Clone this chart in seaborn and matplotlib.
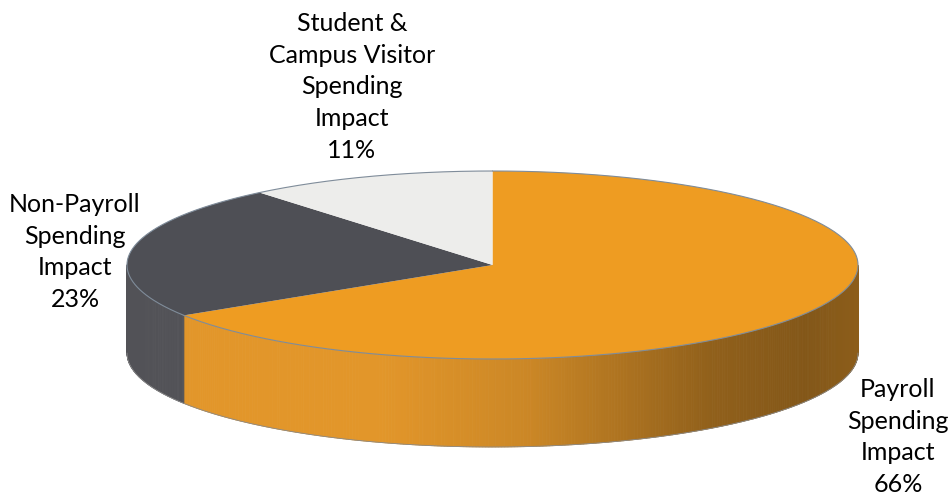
import numpy as np
import matplotlib
matplotlib.use("Agg")
import matplotlib.pyplot as plt
from matplotlib.patches import Polygon
import seaborn as sns

# ---- data ----
categories = ["Payroll\nSpending\nImpact",
              "Non-Payroll\nSpending\nImpact",
              "Student &\nCampus Visitor\nSpending\nImpact"]
shares = [66, 23, 11]
top_colors = ["#EE9C22", "#4E4F55", "#EDEDEB"]
side_colors = ["#E2962A", "#525257", "#D8D8D6"]

sns.set_theme(style="white")
plt.rcParams['font.family'] = ['Lato', 'DejaVu Sans']

W, H = 952, 494
fig = plt.figure(figsize=(W / 100, H / 100), dpi=100)
ax = fig.add_axes([0, 0, 1, 1])
ax.set_xlim(0, W)
ax.set_ylim(H, 0)
ax.axis("off")

# pie geometry (pixel layout)
cx, cy = 492.5, 265.0
a, b = 365.5, 94.0
depth = 88.0


def pt(theta_deg, dy=0.0):
    t = np.radians(theta_deg)
    return cx + a * np.cos(t), cy - b * np.sin(t) + dy


# slice angle ranges: start at 12 o'clock, clockwise
total = float(sum(shares))
starts, ends = [], []
ang = 90.0
for s in shares:
    sweep = 360.0 * s / total
    starts.append(ang)
    ends.append(ang - sweep)
    ang -= sweep


def norm(th):
    return th % 360.0


def side_shade(base_rgb, x):
    # darken towards the right, as in the lit cylinder
    t = (x - (cx - a)) / (2 * a)
    stops_t = [0.0, 0.35, 0.55, 0.8, 0.93, 1.0]
    stops_f = [1.0, 1.0, 0.90, 0.64, 0.58, 0.62]
    f = np.interp(t, stops_t, stops_f)
    return tuple(np.clip(np.array(base_rgb) * f, 0, 1))


# ---- side walls (visible front half: 180..360 deg) ----
for i, s in enumerate(shares):
    base = matplotlib.colors.to_rgb(side_colors[i])
    th_hi, th_lo = starts[i], ends[i]
    n = max(int(abs(th_hi - th_lo) * 2), 2)
    ths = np.linspace(th_lo, th_hi, n + 1)
    for k in range(n):
        t0, t1 = ths[k], ths[k + 1]
        m = norm((t0 + t1) / 2)
        if not (180.0 <= m <= 360.0):
            continue
        p0 = pt(t0); p1 = pt(t1)
        q1 = pt(t1, depth); q0 = pt(t0, depth)
        col = side_shade(base, (p0[0] + p1[0]) / 2) if i == 0 else base
        ax.add_patch(Polygon([p0, p1, q1, q0], closed=True, facecolor=col,
                             edgecolor=col, linewidth=0.6, zorder=1))

# outline of the bottom rim
rim = np.linspace(180, 360, 200)
bx = cx + a * np.cos(np.radians(rim))
by = cy - b * np.sin(np.radians(rim)) + depth
ax.plot(bx, by, color="#8A8A8A", lw=0.6, zorder=2)

# ---- top faces ----
for i, s in enumerate(shares):
    ths = np.linspace(starts[i], ends[i], 200)
    xs = cx + a * np.cos(np.radians(ths))
    ys = cy - b * np.sin(np.radians(ths))
    verts = [(cx, cy)] + list(zip(xs, ys))
    ax.add_patch(Polygon(verts, closed=True, facecolor=top_colors[i],
                         edgecolor="none", zorder=3))
    ax.plot(xs, ys, color="#7F8C9A", lw=0.8, zorder=4)

# ---- labels ----
label_pos = [(898, 437), (75, 252), (352, 87)]
for i, s in enumerate(shares):
    x, y = label_pos[i]
    ax.text(x, y, f"{categories[i]}\n{s}%", ha="center", va="center",
            fontsize=18, color="#000000", linespacing=1.45, zorder=5)

fig.savefig("out.png", dpi=100, facecolor="white")
